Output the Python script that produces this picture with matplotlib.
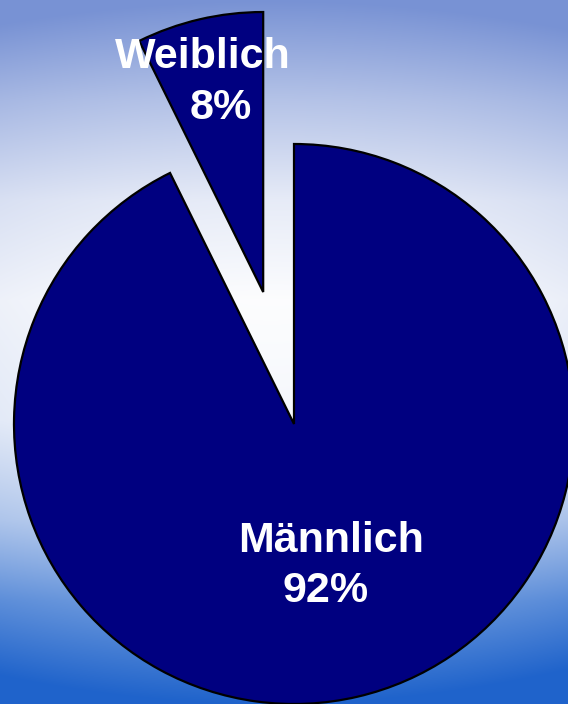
import matplotlib.pyplot as plt
import numpy as np

labels = ['Weiblich', 'Männlich']
shares = [7.3, 92.7]
pct_text = ['8%', '92%']

W, H = 568, 704
fig = plt.figure(figsize=(W / 100, H / 100), dpi=100)

# background gradient: blue top/bottom, white-ish middle
yy, xx = np.mgrid[0:H, 0:W]
s = np.interp(yy, [0, 100, 200, 300, 420, 520, 600, 704],
              [1.0, 0.55, 0.18, 0.02, 0.06, 0.3, 0.62, 1.0])
s = np.clip(s + 0.12 * ((xx - 270) / 290.0) ** 2, 0, 1)
top = np.array([0x78, 0x92, 0xd4]) / 255
bot = np.array([0x1f, 0x63, 0xcb]) / 255
w = np.clip((yy - 300) / 300.0, 0, 1)[..., None]
edge = top * (1 - w) + bot * w
img = (1 - s[..., None]) * 1.0 + s[..., None] * edge
bg = fig.add_axes([0, 0, 1, 1])
bg.imshow(img, aspect='auto', interpolation='bilinear')
bg.axis('off')

ax = fig.add_axes([0, 0, 1, 1])
ax.patch.set_alpha(0)
ax.pie(shares, colors=['#000080', '#000080'], explode=[0.484, 0],
       startangle=90, radius=1,
       wedgeprops={'edgecolor': 'black', 'linewidth': 1.6})
ax.set_xlim(-294 / 280, (W - 294) / 280)
ax.set_ylim(-(H - 424) / 280, 424 / 280)
ax.set_aspect('auto')
ax.axis('off')

font = dict(color='white', fontsize=31, fontweight='bold',
            family='Liberation Sans', ha='center', va='baseline')
ax.text(-0.325, 1.272, labels[0], **font)
ax.text(-0.261, 1.09, pct_text[0], **font)
ax.text(0.132, -0.457, labels[1], **font)
ax.text(0.114, -0.636, pct_text[1], **font)

fig.savefig('out.png', dpi=100)
